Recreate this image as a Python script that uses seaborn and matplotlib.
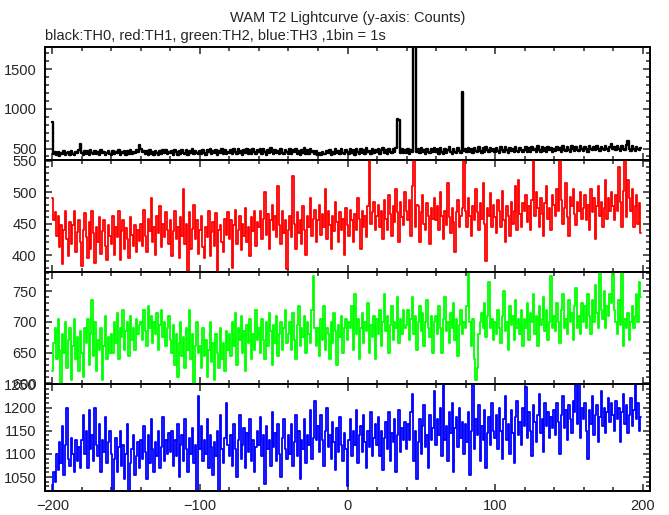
import numpy as np
import pandas as pd
import matplotlib
matplotlib.use("Agg")
import matplotlib.pyplot as plt
import seaborn as sns
from matplotlib.ticker import MultipleLocator

# ---- data (1 s bins, t = -200 .. 199) ----
time_start = -200
n_bins = 400

th0 = [
    830, 425, 462, 418, 455, 410, 448, 430, 468, 422, 440, 458, 415, 470, 435, 420, 462, 440, 475, 560,
    445, 420, 472, 432, 465, 418, 478, 440, 425, 470, 428, 462, 415, 475, 438, 460, 422, 448, 470, 430,
    418, 465, 425, 452, 438, 480, 420, 460, 442, 472, 415, 468, 435, 478, 428, 462, 440, 485, 455, 545,
    490, 450, 472, 430, 465, 418, 478, 435, 460, 422, 470, 440, 418, 465, 432, 475, 445, 482, 425, 460,
    438, 472, 420, 480, 450, 415, 468, 435, 485, 442, 428, 475, 418, 465, 440, 488, 425, 470, 448, 430,
    465, 432, 485, 440, 420, 478, 452, 495, 428, 470, 438, 482, 420, 468, 445, 492, 430, 475, 425, 462,
    440, 485, 428, 490, 455, 425, 495, 438, 470, 420, 482, 445, 500, 432, 475, 428, 488, 450, 430, 480,
    455, 488, 430, 495, 462, 420, 478, 440, 505, 452, 425, 485, 438, 472, 425, 492, 448, 430, 482, 455,
    435, 490, 428, 475, 450, 500, 430, 468, 422, 485, 445, 510, 435, 478, 428, 492, 450, 470, 432, 465,
    420, 448, 415, 462, 435, 425, 472, 440, 485, 418, 458, 430, 490, 442, 470, 425, 498, 448, 432, 480,
    455, 428, 492, 440, 478, 422, 500, 455, 432, 488, 445, 475, 425, 505, 450, 470, 432, 492, 448, 480,
    452, 495, 430, 485, 510, 448, 475, 428, 500, 462, 440, 490, 455, 505, 870, 860, 440, 492, 438, 480,
    448, 498, 432, 485, 455, 1850, 1820, 450, 492, 438, 505, 452, 485, 432, 498, 460, 440, 492, 458, 510,
    450, 495, 435, 505, 462, 430, 498, 448, 485, 525, 455, 432, 495, 450, 440, 502, 465, 445, 1210, 470,
    500, 455, 512, 462, 490, 440, 508, 470, 450, 515, 472, 445, 505, 460, 520, 475, 452, 510, 468, 495,
    458, 508, 470, 445, 515, 480, 455, 522, 475, 448, 510, 468, 498, 450, 518, 472, 460, 512, 478, 455,
    480, 515, 462, 505, 455, 525, 475, 500, 458, 528, 480, 452, 518, 470, 505, 462, 525, 478, 512, 460,
    495, 465, 522, 480, 510, 458, 530, 485, 470, 520, 482, 462, 532, 490, 472, 518, 485, 465, 528, 488,
    470, 520, 488, 462, 530, 492, 475, 518, 482, 535, 490, 468, 525, 495, 478, 532, 492, 470, 522, 562,
    488, 520, 475, 535, 495, 470, 528, 490, 478, 540, 590, 492, 472, 530, 488, 468, 525, 490, 475, 505,
]

th1 = [
    490, 455, 468, 430, 462, 412, 448, 385, 440, 470, 425, 398, 452, 418, 447, 470, 405, 437, 455, 420,
    382, 440, 466, 428, 395, 452, 410, 470, 435, 388, 445, 420, 460, 402, 438, 455, 415, 392, 447, 430,
    418, 462, 400, 445, 428, 470, 392, 438, 455, 410, 443, 425, 395, 460, 432, 415, 448, 405, 440, 422,
    450, 415, 472, 430, 405, 458, 438, 490, 420, 445, 400, 462, 435, 478, 412, 450, 428, 468, 440, 418,
    455, 398, 438, 470, 425, 445, 395, 460, 430, 505, 418, 450, 373, 468, 410, 442, 480, 425, 455, 402,
    440, 462, 412, 395, 445, 428, 470, 398, 436, 452, 415, 466, 375, 440, 448, 420, 405, 458, 432, 468,
    425, 455, 380, 448, 472, 418, 440, 462, 408, 450, 430, 475, 420, 445, 398, 460, 438, 470, 415, 452,
    445, 470, 425, 458, 500, 432, 465, 410, 455, 480, 440, 462, 428, 510, 448, 418, 470, 435, 455, 378,
    440, 462, 428, 525, 450, 410, 468, 435, 455, 418, 478, 440, 400, 462, 445, 490, 430, 458, 472, 420,
    455, 480, 432, 465, 445, 505, 425, 470, 448, 410, 462, 438, 485, 452, 420, 468, 440, 458, 400, 475,
    448, 430, 472, 455, 420, 465, 440, 490, 458, 410, 470, 445, 462, 428, 478, 555, 450, 468, 485, 440,
    462, 480, 445, 470, 425, 488, 458, 440, 495, 465, 430, 478, 452, 505, 468, 420, 485, 460, 448, 500,
    470, 455, 488, 430, 510, 555, 445, 480, 478, 420, 468, 495, 450, 440, 482, 462, 418, 475, 458, 490,
    455, 478, 440, 500, 462, 425, 470, 448, 515, 460, 435, 475, 452, 405, 468, 488, 445, 462, 475, 555,
    470, 445, 490, 462, 430, 478, 455, 505, 468, 440, 482, 458, 515, 450, 390, 475, 462, 498, 445, 480,
    460, 435, 488, 470, 445, 502, 455, 420, 478, 462, 430, 485, 450, 470, 510, 440, 520, 465, 445, 482,
    470, 495, 452, 478, 440, 488, 555, 462, 500, 475, 445, 490, 465, 430, 482, 510, 458, 475, 440, 495,
    480, 462, 505, 470, 555, 488, 450, 475, 515, 460, 430, 492, 478, 505, 465, 448, 485, 470, 500, 458,
    475, 495, 455, 480, 440, 505, 468, 490, 425, 478, 510, 462, 485, 445, 475, 520, 458, 490, 470, 500,
    478, 455, 495, 470, 540, 485, 445, 502, 555, 460, 520, 490, 470, 505, 445, 478, 495, 450, 482, 435,
]

th2 = [
    620, 665, 690, 640, 705, 655, 600, 680, 650, 700, 625, 670, 690, 605, 660, 705, 640, 675, 620, 685,
    650, 610, 690, 665, 705, 630, 680, 735, 645, 700, 620, 670, 655, 690, 605, 660, 710, 640, 675, 650,
    680, 650, 700, 665, 715, 640, 690, 675, 720, 655, 685, 700, 645, 710, 670, 690, 655, 705, 680, 695,
    700, 670, 720, 685, 660, 725, 690, 710, 665, 700, 680, 715, 655, 695, 720, 675, 700, 660, 690, 710,
    670, 650, 695, 630, 680, 610, 665, 700, 645, 675, 625, 690, 655, 720, 640, 680, 600, 660, 700, 650,
    660, 625, 690, 645, 670, 610, 655, 700, 635, 665, 605, 680, 650, 625, 690, 640, 665, 620, 685, 655,
    680, 645, 700, 660, 715, 630, 690, 670, 710, 650, 685, 620, 695, 665, 705, 640, 680, 655, 720, 670,
    690, 650, 705, 670, 640, 700, 660, 715, 685, 630, 695, 665, 710, 645, 680, 700, 655, 690, 720, 665,
    680, 700, 655, 715, 670, 640, 695, 725, 660, 690, 675, 710, 650, 700, 680, 665, 720, 775, 690, 660,
    690, 645, 705, 670, 725, 655, 690, 680, 640, 700, 665, 715, 685, 630, 695, 675, 710, 650, 690, 705,
    670, 700, 690, 725, 655, 745, 680, 705, 640, 690, 715, 665, 700, 685, 730, 650, 695, 675, 710, 640,
    705, 680, 720, 660, 700, 745, 685, 710, 650, 695, 725, 670, 700, 690, 740, 665, 705, 680, 720, 690,
    695, 720, 670, 705, 740, 680, 710, 655, 700, 725, 685, 715, 660, 700, 735, 690, 675, 710, 650, 700,
    710, 680, 725, 690, 650, 705, 740, 685, 700, 665, 715, 690, 730, 670, 705, 645, 695, 720, 680, 700,
    690, 725, 780, 700, 660, 705, 640, 605, 625, 680, 700, 715, 690, 730, 675, 710, 765, 690, 705, 670,
    700, 680, 720, 690, 665, 710, 750, 685, 700, 655, 725, 695, 710, 670, 735, 690, 705, 680, 720, 660,
    705, 690, 730, 670, 715, 700, 745, 680, 710, 660, 725, 695, 705, 740, 685, 720, 670, 700, 775, 690,
    710, 685, 730, 700, 665, 720, 745, 690, 705, 680, 735, 700, 715, 670, 725, 755, 690, 710, 680, 730,
    700, 725, 690, 745, 710, 680, 735, 700, 760, 715, 690, 782, 720, 705, 750, 690, 725, 710, 745, 730,
    782, 720, 700, 680, 735, 695, 782, 660, 705, 690, 715, 670, 700, 725, 690, 710, 745, 700, 765, 740,
]

th3 = [
    1020, 1060, 1040, 1100, 1065, 1125, 1080, 1160, 1055, 1120, 1200, 1090, 1075, 1135, 1100, 1060, 1130, 1085, 1115, 1070,
    1130, 1185, 1100, 1150, 1070, 1195, 1110, 1140, 1085, 1200, 1120, 1095, 1165, 1060, 1130, 1105, 1180, 1080, 1125, 1150,
    1100, 1020, 1090, 1135, 1060, 1115, 1150, 1075, 1120, 1045, 1100, 1165, 1020, 1080, 1110, 1140, 1055, 1095, 1125, 1070,
    1130, 1090, 1160, 1105, 1045, 1140, 1080, 1175, 1110, 1060, 1125, 1095, 1150, 1070, 1115, 1180, 1085, 1130, 1100, 1145,
    1105, 1150, 1075, 1130, 1095, 1165, 1050, 1120, 1140, 1085, 1175, 1110, 1060, 1135, 1100, 1155, 1080, 1120, 1020, 1225,
    1110, 1160, 1085, 1130, 1100, 1175, 1070, 1140, 1115, 1055, 1125, 1095, 1150, 1020, 1185, 1110, 1080, 1135, 1210, 1120,
    1095, 1140, 1075, 1165, 1110, 1050, 1130, 1185, 1090, 1120, 1155, 1070, 1145, 1105, 1175, 1085, 1130, 1060, 1115, 1150,
    1120, 1180, 1095, 1140, 1035, 1160, 1110, 1130, 1075, 1190, 1115, 1145, 1085, 1165, 1100, 1050, 1135, 1175, 1110, 1090,
    1140, 1100, 1165, 1075, 1125, 1185, 1095, 1150, 1045, 1130, 1110, 1175, 1080, 1140, 1120, 1195, 1090, 1135, 1215, 1130,
    1160, 1105, 1185, 1130, 1075, 1150, 1200, 1115, 1140, 1090, 1170, 1125, 1065, 1155, 1105, 1180, 1120, 1085, 1145, 1110,
    1030, 1130, 1175, 1095, 1150, 1120, 1195, 1080, 1140, 1160, 1105, 1185, 1125, 1070, 1150, 1115, 1190, 1095, 1135, 1165,
    1120, 1180, 1095, 1150, 1065, 1135, 1170, 1110, 1190, 1085, 1145, 1125, 1175, 1060, 1140, 1195, 1105, 1155, 1130, 1170,
    1110, 1165, 1130, 1190, 1230, 1085, 1150, 1045, 1125, 1175, 1100, 1160, 1205, 1115, 1140, 1070, 1185, 1130, 1155, 1235,
    1120, 1175, 1140, 1200, 1095, 1250, 1130, 1160, 1085, 1190, 1145, 1210, 1060, 1155, 1180, 1115, 1200, 1135, 1170, 1100,
    1165, 1125, 1190, 1055, 1150, 1250, 1110, 1175, 1140, 1205, 1085, 1160, 1130, 1195, 1070, 1145, 1180, 1120, 1210, 1150,
    1135, 1185, 1110, 1200, 1150, 1090, 1175, 1225, 1130, 1165, 1100, 1195, 1145, 1080, 1180, 1215, 1140, 1170, 1120, 1200,
    1160, 1245, 1135, 1190, 1150, 1095, 1205, 1170, 1125, 1185, 1230, 1145, 1175, 1105, 1210, 1160, 1190, 1135, 1180, 1155,
    1195, 1140, 1210, 1170, 1100, 1185, 1225, 1155, 1195, 1130, 1205, 1175, 1145, 1215, 1190, 1250, 1165, 1250, 1135, 1200,
    1175, 1210, 1150, 1090, 1195, 1165, 1225, 1140, 1185, 1205, 1125, 1180, 1235, 1160, 1200, 1145, 1190, 1220, 1170, 1210,
    1185, 1150, 1215, 1175, 1200, 1125, 1190, 1230, 1165, 1205, 1145, 1185, 1220, 1160, 1195, 1250, 1175, 1210, 1150, 1180,
]

series_names = ["TH0", "TH1", "TH2", "TH3"]
series_colors = ["#000000", "#ff0000", "#00ff00", "#0000ff"]
series_values = [th0, th1, th2, th3]
y_limits = [(355, 1780), (373, 551), (599, 781), (1020, 1251)]
y_major = [500, 50, 50, 50]
y_minor = [100, 10, 10, 10]
x_ticks = [-200, -100, 0, 100, 200]

title_text = "WAM T2 Lightcurve (y-axis: Counts)"
subtitle_text = "black:TH0, red:TH1, green:TH2, blue:TH3 ,1bin = 1s"

# ---- figure ----
sns.set_style("ticks")
plt.rcParams["font.family"] = ["Liberation Sans", "DejaVu Sans"]

W, H = 669, 515
fig = plt.figure(figsize=(W / 100, H / 100), dpi=100)

left_px, right_px = 45, 650
panel_edges = [47, 160, 272, 384, 491]

time = np.arange(time_start, time_start + n_bins)
axes = []
for i in range(4):
    top, bot = panel_edges[i], panel_edges[i + 1]
    ax = fig.add_axes([left_px / W, 1 - bot / H, (right_px - left_px) / W, (bot - top) / H])
    df = pd.DataFrame({"t": time, "counts": series_values[i]})
    sns.lineplot(data=df, x="t", y="counts", ax=ax, color=series_colors[i],
                 lw=1.7 if i == 0 else 1.3, drawstyle="steps-mid",
                 estimator=None, legend=False)
    ax.set_xlim(-205, 205)
    ax.set_ylim(*y_limits[i])
    ax.set_xlabel("")
    ax.set_ylabel("")
    ax.xaxis.set_major_locator(MultipleLocator(100))
    ax.xaxis.set_minor_locator(MultipleLocator(20))
    ax.yaxis.set_major_locator(MultipleLocator(y_major[i]))
    ax.yaxis.set_minor_locator(MultipleLocator(y_minor[i]))
    ax.tick_params(which="both", direction="in", top=True, right=True, width=1.1,
                   labelsize=10.5, pad=6)
    ax.tick_params(which="major", length=5)
    ax.tick_params(which="minor", length=3)
    if i < 3:
        ax.tick_params(labelbottom=False)
    else:
        ax.set_xticks(x_ticks)
    for sp in ax.spines.values():
        sp.set_linewidth(1.4)
        sp.set_color("black")
    axes.append(ax)

fig.text(348 / W, 1 - 18 / H, title_text, ha="center", va="center", fontsize=10.5)
fig.text(45 / W, 1 - 36 / H, subtitle_text, ha="left", va="center", fontsize=10.5)

fig.savefig("out.png", dpi=100)
